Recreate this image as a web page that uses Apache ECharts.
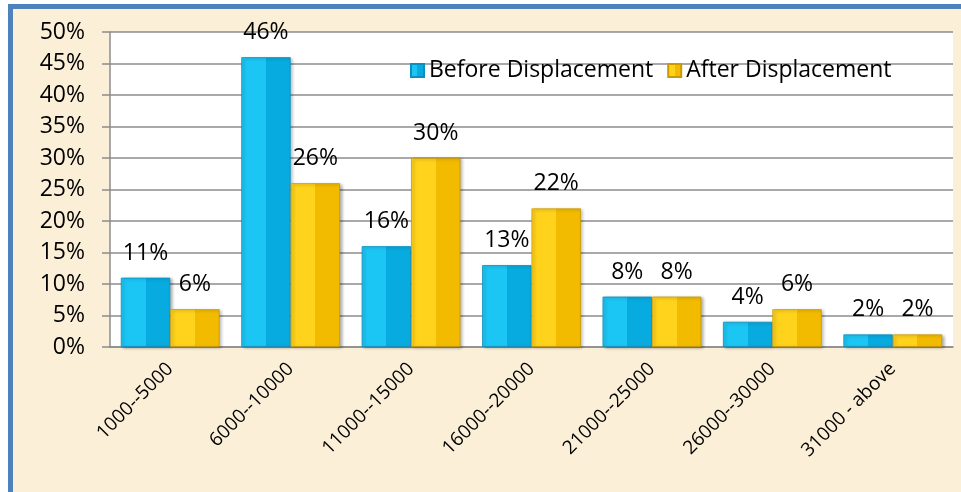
<!DOCTYPE html>
<html>
<head>
<meta charset="utf-8">
<script src="https://cdn.jsdelivr.net/npm/echarts@6/dist/echarts.min.js"></script>
<style>
  html, body { margin: 0; padding: 0; background: #ffffff; overflow: hidden; }
  #frame {
    position: absolute; left: 8px; top: 4px; width: 1000px; height: 600px;
    border: 5px solid #4f81bd; background: #fbefd8;
  }
  #chart { position: absolute; left: 0; top: 0; width: 961px; height: 492px; }
</style>
</head>
<body>
<div id="frame"></div>
<div id="chart"></div>
<script>
// income brackets
var categories = ["1000--5000", "6000--10000", "11000--15000", "16000--20000",
  "21000--25000", "26000--30000", "31000 - above"];
var beforeValues = [11, 46, 16, 13, 8, 4, 2];
var afterValues = [6, 26, 30, 22, 8, 6, 2];
var seriesNames = ["Before Displacement", "After Displacement"];

var FONT = "Open Sans";

function bevel(light, dark) {
  return new echarts.graphic.LinearGradient(0, 0, 1, 0, [
    { offset: 0, color: light },
    { offset: 0.5, color: light },
    { offset: 0.5, color: dark },
    { offset: 1, color: dark }
  ]);
}

var chart = echarts.init(document.getElementById("chart"));
chart.setOption({
  animation: false,
  backgroundColor: "transparent",
  textStyle: { fontFamily: FONT },
  grid: {
    left: 110, right: 8, top: 32, bottom: 145,
    show: true, backgroundColor: "#ffffff", borderWidth: 0
  },
  legend: {
    left: 405, top: 54,
    icon: "rect", itemWidth: 13, itemHeight: 13, itemGap: 14,
    textStyle: { fontFamily: FONT, fontSize: 23, color: "#000" },
    data: seriesNames
  },
  xAxis: {
    type: "category",
    data: categories,
    axisLine: { lineStyle: { color: "#8c8c8c", width: 1.5 } },
    axisTick: { length: 7, lineStyle: { color: "#8c8c8c", width: 1.5 } },
    axisLabel: {
      rotate: 45, margin: 19, interval: 0,
      fontFamily: FONT, fontSize: 19, color: "#000"
    }
  },
  yAxis: {
    type: "value",
    min: 0, max: 50, interval: 5,
    axisLine: { show: true, lineStyle: { color: "#8c8c8c", width: 1.5 } },
    axisTick: { show: true, length: 8, lineStyle: { color: "#8c8c8c", width: 1.5 } },
    axisLabel: {
      formatter: "{value}%", margin: 25,
      fontFamily: FONT, fontSize: 23, color: "#000"
    },
    splitLine: { lineStyle: { color: "#8c8c8c", width: 1.5 } }
  },
  series: [
    {
      name: seriesNames[0],
      type: "bar",
      data: beforeValues,
      barGap: "0%",
      barCategoryGap: "18%",
      itemStyle: {
        color: bevel("#1cc6f4", "#08abe0"),
        borderColor: "#0a8fc0", borderWidth: 0.8,
        shadowColor: "rgba(0,0,0,0.3)", shadowBlur: 3, shadowOffsetX: 2, shadowOffsetY: 1
      },
      label: {
        show: true, position: "top", distance: 13,
        formatter: "{c}%", fontFamily: FONT, fontSize: 23, color: "#000"
      }
    },
    {
      name: seriesNames[1],
      type: "bar",
      data: afterValues,
      itemStyle: {
        color: bevel("#ffd21c", "#f3bb00"),
        borderColor: "#c99a00", borderWidth: 0.8,
        shadowColor: "rgba(0,0,0,0.3)", shadowBlur: 3, shadowOffsetX: 2, shadowOffsetY: 1
      },
      label: {
        show: true, position: "top", distance: 13,
        formatter: "{c}%", fontFamily: FONT, fontSize: 23, color: "#000"
      }
    }
  ]
});
</script>
</body>
</html>
